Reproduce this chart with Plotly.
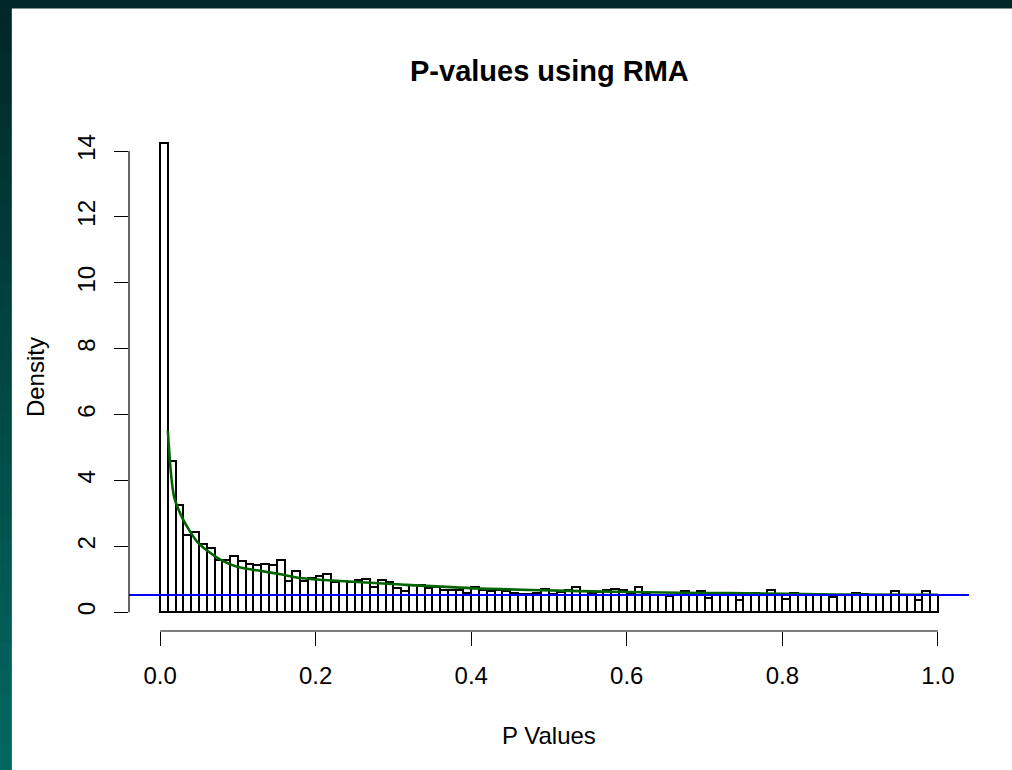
import numpy as np
import plotly.graph_objects as go

# ---- data ----
bin_edges = [round(i * 0.01, 2) for i in range(101)]
density = [
    14.25, 4.58, 3.27, 2.35, 2.45, 2.06, 1.95, 1.59, 1.59, 1.72,
    1.54, 1.45, 1.42, 1.46, 1.42, 1.60, 0.96, 1.24, 0.95, 1.03,
    1.09, 1.15, 0.91, 0.96, 0.93, 0.98, 1.02, 0.78, 0.99, 0.91,
    0.74, 0.65, 0.84, 0.84, 0.74, 0.78, 0.68, 0.68, 0.68, 0.58,
    0.76, 0.67, 0.64, 0.66, 0.64, 0.58, 0.56, 0.56, 0.58, 0.71,
    0.56, 0.60, 0.68, 0.78, 0.64, 0.58, 0.60, 0.68, 0.70, 0.68,
    0.56, 0.78, 0.56, 0.51, 0.51, 0.48, 0.51, 0.64, 0.56, 0.64,
    0.44, 0.56, 0.56, 0.51, 0.38, 0.51, 0.58, 0.51, 0.66, 0.51,
    0.41, 0.58, 0.51, 0.51, 0.51, 0.51, 0.46, 0.51, 0.51, 0.58,
    0.54, 0.51, 0.51, 0.51, 0.64, 0.51, 0.51, 0.36, 0.64, 0.51,
]
curve_p = [0.01, 0.018, 0.029, 0.039, 0.048, 0.06, 0.078, 0.10, 0.13, 0.155,
           0.18, 0.21, 0.31, 0.41, 0.54, 0.67, 0.73, 0.87, 1.0]
curve_d = [5.5, 3.50, 2.84, 2.43, 2.13, 1.88, 1.59, 1.37, 1.25, 1.15,
           1.04, 0.98, 0.84, 0.72, 0.64, 0.59, 0.58, 0.54, 0.53]
null_level = 0.52
x_ticks = [0.0, 0.2, 0.4, 0.6, 0.8, 1.0]
x_ticklabels = ["0.0", "0.2", "0.4", "0.6", "0.8", "1.0"]
y_ticks = [0, 2, 4, 6, 8, 10, 12, 14]

title_text = "P-values using RMA"
x_title = "P Values"
y_title = "Density"

# ---- layout geometry ----
W, H = 1012, 770
L, R, T, B = 128.5, 43, 123.5, 139.3
pw, ph = W - L - R, H - T - B


def px_x(px):
    return (px - L) / pw


def px_y(py):
    return (H - B - py) / ph


centers = [(bin_edges[i] + bin_edges[i + 1]) / 2 for i in range(len(density))]
widths = [bin_edges[i + 1] - bin_edges[i] for i in range(len(density))]

fig = go.Figure()
fig.add_trace(go.Bar(
    x=centers, y=density, width=widths,
    marker=dict(color="white", line=dict(color="black", width=2)),
    showlegend=False, hoverinfo="x+y",
))
fig.add_trace(go.Scatter(
    x=curve_p, y=curve_d, mode="lines",
    line=dict(color="#006400", width=2.6, shape="spline", smoothing=0.8),
    showlegend=False,
))

shapes = []
# background frame: white panel with dark teal gradient strip left/top
shapes.append(dict(type="rect", xref="paper", yref="paper",
                   x0=px_x(11), x1=px_x(W + 5), y0=px_y(H + 5), y1=px_y(8),
                   fillcolor="white", line=dict(width=0), layer="below"))
n_seg = 30
c0 = np.array([0x00, 0x28, 0x28])
c1 = np.array([0x00, 0x68, 0x60])
for i in range(n_seg):
    f = i / (n_seg - 1)
    c = (c0 + (c1 - c0) * f).astype(int)
    shapes.append(dict(type="rect", xref="paper", yref="paper",
                       x0=px_x(-2), x1=px_x(11),
                       y0=px_y(H * (i + 1) / n_seg + 1), y1=px_y(H * i / n_seg),
                       fillcolor="rgb(%d,%d,%d)" % tuple(c), line=dict(width=0),
                       layer="below"))
# axis lines (R style, spanning tick range only)
shapes.append(dict(type="line", xref="x", yref="paper",
                   x0=x_ticks[0], x1=x_ticks[-1], y0=0, y1=0,
                   line=dict(color="black", width=1.2)))
shapes.append(dict(type="line", xref="paper", yref="y",
                   x0=0, x1=0, y0=y_ticks[0], y1=y_ticks[-1],
                   line=dict(color="black", width=1.2)))
# horizontal null level
shapes.append(dict(type="line", xref="paper", yref="y",
                   x0=0, x1=1, y0=null_level, y1=null_level,
                   line=dict(color="#0000FF", width=2)))

ymax = max(density)
fig.update_layout(
    width=W, height=H,
    margin=dict(l=L, r=R, t=T, b=B, pad=0),
    paper_bgcolor="#002828", plot_bgcolor="white",
    font=dict(family="Liberation Sans, Arial, sans-serif", color="black", size=24),
    bargap=0,
    shapes=shapes,
    xaxis=dict(range=[-0.04, 1.04], tickvals=x_ticks, ticktext=x_ticklabels,
               ticks="outside", ticklen=14, tickwidth=1.2, tickcolor="black",
               showgrid=False, zeroline=False, showline=False,
               tickfont=dict(size=24), ticklabelstandoff=9),
    yaxis=dict(range=[-0.04 * ymax, 1.04 * ymax], tickvals=y_ticks,
               ticks="outside", ticklen=14, tickwidth=1.2, tickcolor="black",
               showgrid=False, zeroline=False, showline=False, tickangle=-90,
               tickfont=dict(size=24), ticklabelstandoff=9),
    annotations=[
        dict(text="<b>%s</b>" % title_text, xref="paper", yref="paper",
             x=0.5, y=px_y(70), xanchor="center", yanchor="middle",
             showarrow=False, font=dict(size=29)),
        dict(text=x_title, xref="paper", yref="paper",
             x=0.5, y=px_y(735), xanchor="center", yanchor="middle",
             showarrow=False, font=dict(size=24)),
        dict(text=y_title, xref="paper", yref="paper",
             x=px_x(35), y=0.5, xanchor="center", yanchor="middle",
             textangle=-90, showarrow=False, font=dict(size=24)),
    ],
)

fig.write_html("out.html",
               config={"displayModeBar": False},
               post_script="document.body.style.margin='0';"
                           "document.body.style.overflow='hidden';")
